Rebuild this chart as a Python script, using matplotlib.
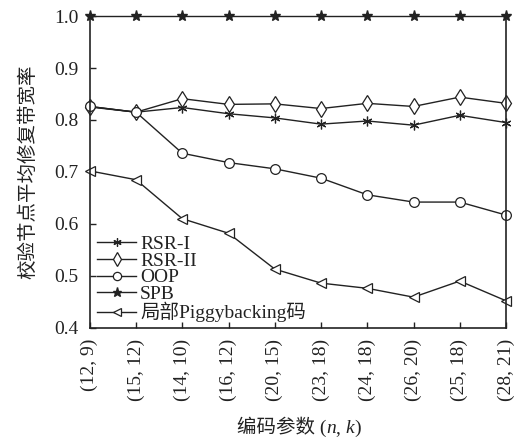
import matplotlib
matplotlib.use('Agg')
import matplotlib.pyplot as plt
import numpy as np

plt.rcParams['font.family'] = ['Liberation Serif', 'Noto Sans CJK SC']

params = ['(12, 9)', '(15, 12)', '(14, 10)', '(16, 12)', '(20, 15)',
          '(23, 18)', '(24, 18)', '(26, 20)', '(25, 18)', '(28, 21)']
rsr1 = [0.826, 0.815, 0.824, 0.812, 0.804, 0.792, 0.798, 0.790, 0.809, 0.795]
rsr2 = [0.825, 0.815, 0.841, 0.830, 0.831, 0.822, 0.832, 0.826, 0.844, 0.832]
oop = [0.826, 0.815, 0.736, 0.718, 0.706, 0.688, 0.656, 0.642, 0.642, 0.617]
spb = [1.0] * 10
piggy = [0.702, 0.685, 0.610, 0.582, 0.513, 0.486, 0.476, 0.459, 0.490, 0.452]

x = np.arange(len(params))
fig = plt.figure(figsize=(5.19, 4.46), dpi=100)
ax = fig.add_axes([0.173, 0.265, 0.802, 0.699])

c = '#222222'
kw = dict(color=c, lw=1.0, mfc='white', mec=c, mew=0.9, clip_on=False)
ax.plot(x, rsr1, marker=(6, 2, 0), ms=7, label='RSR-I', **kw)
ax.plot(x, rsr2, marker='d', ms=8, label='RSR-II', **kw)
ax.plot(x, oop, marker='o', ms=7, label='OOP', **kw)
ax.plot(x, spb, marker='*', ms=8, color=c, lw=1.0, mfc=c, mec=c,
        clip_on=False, label='SPB')
ax.plot(x, piggy, marker='<', ms=7, label='局部Piggybacking码', **kw)

ax.set_xlim(0, 9)
ax.set_ylim(0.4, 1.0)
ax.set_yticks([0.4, 0.5, 0.6, 0.7, 0.8, 0.9, 1.0])
ax.set_yticklabels(['0.4', '0.5', '0.6', '0.7', '0.8', '0.9', '1.0'])
ax.set_xticks(x)
ax.set_xticklabels(params, rotation=90)
ax.tick_params(direction='in', length=4, width=1, labelsize=14, pad=8, color=c,
               labelcolor=c)
ax.spines['top'].set_visible(False)
for s in ['left', 'bottom', 'right']:
    ax.spines[s].set_color(c)
    ax.spines[s].set_linewidth(1.2)

ax.set_ylabel('校验节点平均修复带宽率', fontsize=14, color=c, labelpad=12)

# x label built from pieces so n and k can be italic
pieces = [('编码参数 (', 'normal'), ('n', 'italic'), (', ', 'normal'),
          ('k', 'italic'), (')', 'normal')]
prev = fig.text(237 / 519, 0.02, pieces[0][0], fontsize=14, color=c,
                va='bottom', ha='left')
for s, style in pieces[1:]:
    prev = ax.annotate(s, xy=(1, 0), xycoords=prev, va='bottom', ha='left',
                       fontsize=14, color=c, style=style,
                       annotation_clip=False)

leg = ax.legend(loc='lower left', bbox_to_anchor=(-0.01, -0.02), frameon=False,
                fontsize=14, handlelength=2.0, handletextpad=0.2,
                labelspacing=-0.05, borderaxespad=0.2, markerscale=0.85)
for t in leg.get_texts():
    t.set_color(c)

fig.savefig('out.png', dpi=100)
